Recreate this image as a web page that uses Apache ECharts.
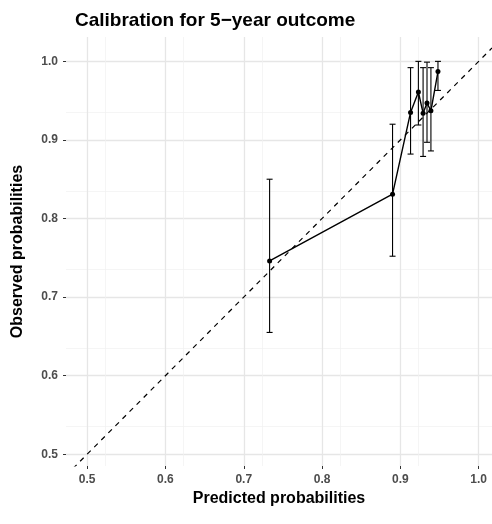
<!DOCTYPE html>
<html><head><meta charset="utf-8">
<script src="https://cdn.jsdelivr.net/npm/echarts@6/dist/echarts.min.js"></script>
<style>body{margin:0}#c{width:492px;height:524px}</style>
</head><body><div id="c"></div>
<script>
var predicted = [0.733, 0.890, 0.913, 0.923, 0.929, 0.934, 0.939, 0.948];
var observed  = [0.746, 0.831, 0.935, 0.961, 0.934, 0.947, 0.937, 0.987];
var upper     = [0.850, 0.920, 0.992, 1.000, 0.992, 0.999, 0.992, 1.000];
var lower     = [0.655, 0.752, 0.882, 0.919, 0.879, 0.897, 0.886, 0.963];
var ticks     = [0.5, 0.6, 0.7, 0.8, 0.9, 1.0];

var pts = predicted.map(function(x,i){ return [x, observed[i]]; });
var bars = predicted.map(function(x,i){ return [x, lower[i], upper[i]]; });
var font = 'Liberation Sans';
var axisCommon = {
    type:'value', interval:0.1,
    axisLine:{show:false}, axisTick:{show:true, length:3, lineStyle:{color:'#333'}},
    axisLabel:{color:'#4d4d4d', fontSize:12, fontWeight:'bold', fontFamily:font, formatter:function(v){return v.toFixed(1);}},
    splitLine:{lineStyle:{color:'#e6e6e6', width:1.3}},
    minorTick:{show:false, splitNumber:2},
    minorSplitLine:{show:true, lineStyle:{color:'#f0f0f0', width:0.7}},
    nameLocation:'middle',
    nameTextStyle:{color:'#000', fontSize:16, fontWeight:'bold', fontFamily:font}
};
var chart = echarts.init(document.getElementById('c'));
chart.setOption({
    animation:false,
    title:{text:'Calibration for 5\u2212year outcome', left:70, top:6,
        textStyle:{fontSize:19, fontWeight:'bold', color:'#000', fontFamily:font}},
    grid:{left:66, right:0, top:37, bottom:58},
    xAxis:Object.assign({}, axisCommon, {min:0.473, max:1.017, name:'Predicted probabilities', nameGap:22,
        axisLabel:Object.assign({}, axisCommon.axisLabel, {customValues:ticks}),
        axisTick:Object.assign({}, axisCommon.axisTick, {customValues:ticks})}),
    yAxis:Object.assign({}, axisCommon, {min:0.485, max:1.031, name:'Observed probabilities', nameGap:40,
        axisLabel:Object.assign({}, axisCommon.axisLabel, {customValues:ticks}),
        axisTick:Object.assign({}, axisCommon.axisTick, {customValues:ticks})}),
    series:[
        {type:'line', data:[[0.473,0.473],[1.017,1.017]], symbol:'none', clip:true,
         lineStyle:{color:'#000', type:[5,5], width:1.2}},
        {type:'custom', data:bars, clip:true,
         renderItem:function(params, api){
            var x = api.value(0);
            var lo = api.coord([x, api.value(1)]);
            var hi = api.coord([x, api.value(2)]);
            var w = 3;
            var s = {stroke:'#000', lineWidth:1.1};
            return {type:'group', children:[
                {type:'line', shape:{x1:lo[0],y1:lo[1],x2:hi[0],y2:hi[1]}, style:s},
                {type:'line', shape:{x1:lo[0]-w,y1:lo[1],x2:lo[0]+w,y2:lo[1]}, style:s},
                {type:'line', shape:{x1:hi[0]-w,y1:hi[1],x2:hi[0]+w,y2:hi[1]}, style:s}
            ]};
         }},
        {type:'line', data:pts, symbol:'circle', symbolSize:5,
         itemStyle:{color:'#000'}, lineStyle:{color:'#000', width:1.4}}
    ]
});
</script></body></html>
